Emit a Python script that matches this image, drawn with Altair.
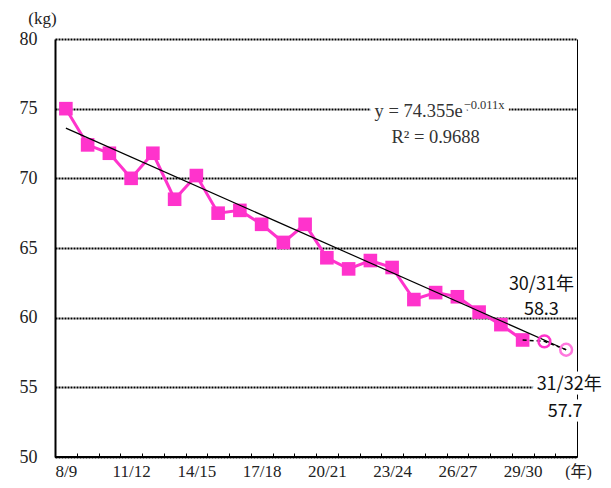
import altair as alt
import pandas as pd

# ---- data ----
categories = ["8/9", "9/10", "10/11", "11/12", "12/13", "13/14", "14/15", "15/16",
              "16/17", "17/18", "18/19", "19/20", "20/21", "21/22", "22/23", "23/24",
              "24/25", "25/26", "26/27", "27/28", "28/29", "29/30", "30/31", "31/32"]
shown_labels = ["8/9", "11/12", "14/15", "17/18", "20/21", "23/24", "26/27", "29/30"]

obs_years = categories[:22]
obs_values = [75.0, 72.4, 71.8, 70.0, 71.8, 68.5, 70.2, 67.5, 67.7, 66.7, 65.4,
              66.7, 64.3, 63.5, 64.1, 63.6, 61.3, 61.8, 61.5, 60.4, 59.5, 58.4]

forecast_years = ["30/31", "31/32"]
forecast_values = [58.3, 57.7]
forecast_colors = ["#FF33CC", "#FF77DD"]

dash_years = ["29/30", "30/31", "31/32"]
dash_values = [58.4, 58.3, 57.7]

trend_years = ["8/9", "31/32"]
trend_values = [73.6, 57.7]

y_ticks = [50, 55, 60, 65, 70, 75, 80]

PINK = "#FF33CC"
SERIF = "Liberation Serif, DejaVu Serif, Noto Sans CJK JP"
SANS = "Noto Sans CJK JP, DejaVu Sans"

obs = pd.DataFrame({"year": obs_years, "value": obs_values})
fc = pd.DataFrame({"year": forecast_years, "value": forecast_values, "color": forecast_colors})
dash = pd.DataFrame({"year": dash_years, "value": dash_values})
trend = pd.DataFrame({"year": trend_years, "value": trend_values})

label_list = "[" + ",".join('"%s"' % s for s in shown_labels) + "]"

X = alt.X("year:N", sort=categories,
          scale=alt.Scale(type="band", domain=categories, paddingInner=0, paddingOuter=0),
          axis=alt.Axis(title="(年)", titleX=523, titleY=18, titleAlign="center",
                        titleBaseline="middle", titleFont=SERIF, titleFontSize=16,
                        titleFontWeight="normal", titleColor="#222",
                        labelExpr="indexof(%s, datum.value) >= 0 ? datum.value : ''" % label_list,
                        labelAngle=0, labelFont=SERIF, labelFontSize=17, labelColor="#222",
                        labelBaseline="middle", labelPadding=14,
                        tickBand="extent", ticks=True, tickSize=4,
                        tickColor="#000", tickWidth=1, offset=-4, domain=False, grid=False))
Y = alt.Y("value:Q",
          scale=alt.Scale(domain=[50, 80], nice=False, zero=False),
          axis=alt.Axis(values=y_ticks, title="(kg)", titleAngle=0, titleX=-13, titleY=-21,
                        titleAlign="center", titleBaseline="middle", titleFont=SERIF,
                        titleFontSize=17, titleFontWeight="normal", titleColor="#222",
                        labelFont=SERIF, labelFontSize=18, labelColor="#222", labelPadding=18,
                        ticks=False, domain=True, domainColor="#000", domainWidth=2,
                        grid=True, gridColor="#000", gridDash=[2, 1], gridWidth=2))

bottom_rule = alt.Chart(obs).mark_rule(color="#000", strokeWidth=2).encode(y=alt.datum(50))

line = alt.Chart(obs).mark_line(color=PINK, strokeWidth=3).encode(x=X, y=Y)
squares = alt.Chart(obs).mark_point(shape="square", filled=True, color=PINK, size=185,
                                     opacity=1).encode(x=X, y=Y)
dashed = alt.Chart(dash).mark_line(color="#000", strokeWidth=1.5,
                                   strokeDash=[4, 3]).encode(x=X, y=Y)
trend_line = alt.Chart(trend).mark_line(color="#000", strokeWidth=1.2).encode(x=X, y=Y)
circles = alt.Chart(fc).mark_point(shape="circle", filled=False, size=140, strokeWidth=2.5,
                                   opacity=1).encode(
    x=X, y=Y, stroke=alt.Color("color:N", scale=None))

# ---- annotations (anchored in data units) ----
ann_eq_main = pd.DataFrame({"year": ["25/26"], "value": [75.0], "t": ["y = 74.355e"]})
ann_eq_sup = pd.DataFrame({"year": ["25/26"], "value": [75.0], "t": ["−0.011x"]})
ann_r2 = pd.DataFrame({"year": ["25/26"], "value": [73.0], "t": ["R² = 0.9688"]})
ann_a1 = pd.DataFrame({"year": ["30/31"], "value": [62.36], "t": ["30/31年"]})
ann_a2 = pd.DataFrame({"year": ["30/31"], "value": [60.54], "t": ["58.3"]})
ann_b1 = pd.DataFrame({"year": ["31/32"], "value": [55.2], "t": ["31/32年"]})
ann_b2 = pd.DataFrame({"year": ["31/32"], "value": [53.26], "t": ["57.7"]})


def txt(df, halo=0, **kw):
    props = dict(kw)
    if halo:
        props.update(stroke="white", strokeWidth=halo, strokeJoin="round", color="white")
    return alt.Chart(df).mark_text(**props).encode(x=X, y=Y, text="t:N")


eq_style = dict(font=SERIF, fontSize=18.5, baseline="middle")
texts = []
for halo in (9, 0):
    texts += [
        txt(ann_eq_main, halo, align="right", dx=27, dy=2, color="#333", **eq_style),
        txt(ann_eq_sup, halo, align="left", dx=28, dy=-4, color="#333", font=SERIF,
            fontSize=12.5, baseline="middle"),
        txt(ann_b1, halo, align="center", dx=3, color="#111", font=SANS, fontSize=18,
            baseline="middle"),
        txt(ann_b2, halo, align="center", dx=-1, color="#111", font=SANS, fontSize=18,
            baseline="middle"),
    ]
texts += [
    txt(ann_r2, 0, align="center", color="#333", **eq_style),
    txt(ann_a1, 0, align="center", dx=-3, color="#111", font=SANS, fontSize=18,
        baseline="middle"),
    txt(ann_a2, 0, align="center", dx=-3, color="#111", font=SANS, fontSize=18,
        baseline="middle"),
]

left = alt.layer(bottom_rule, line, squares, trend_line, dashed, circles, *texts)

right_axis = alt.Chart(obs).mark_point(opacity=0).encode(
    x=X,
    y=alt.Y("value:Q", scale=alt.Scale(domain=[50, 80], nice=False, zero=False),
            axis=alt.Axis(orient="right", labels=False, ticks=False, grid=False, title=None,
                          domain=True, domainColor="#000", domainWidth=1)))

chart = alt.layer(right_axis, left).resolve_axis(y="independent").properties(
    width=522, height=418, autosize="none",
    padding={"left": 47, "top": 31, "right": 26, "bottom": 23},
).configure_view(stroke=None)

chart.save("out.html", embed_options={"renderer": "svg", "actions": False})
